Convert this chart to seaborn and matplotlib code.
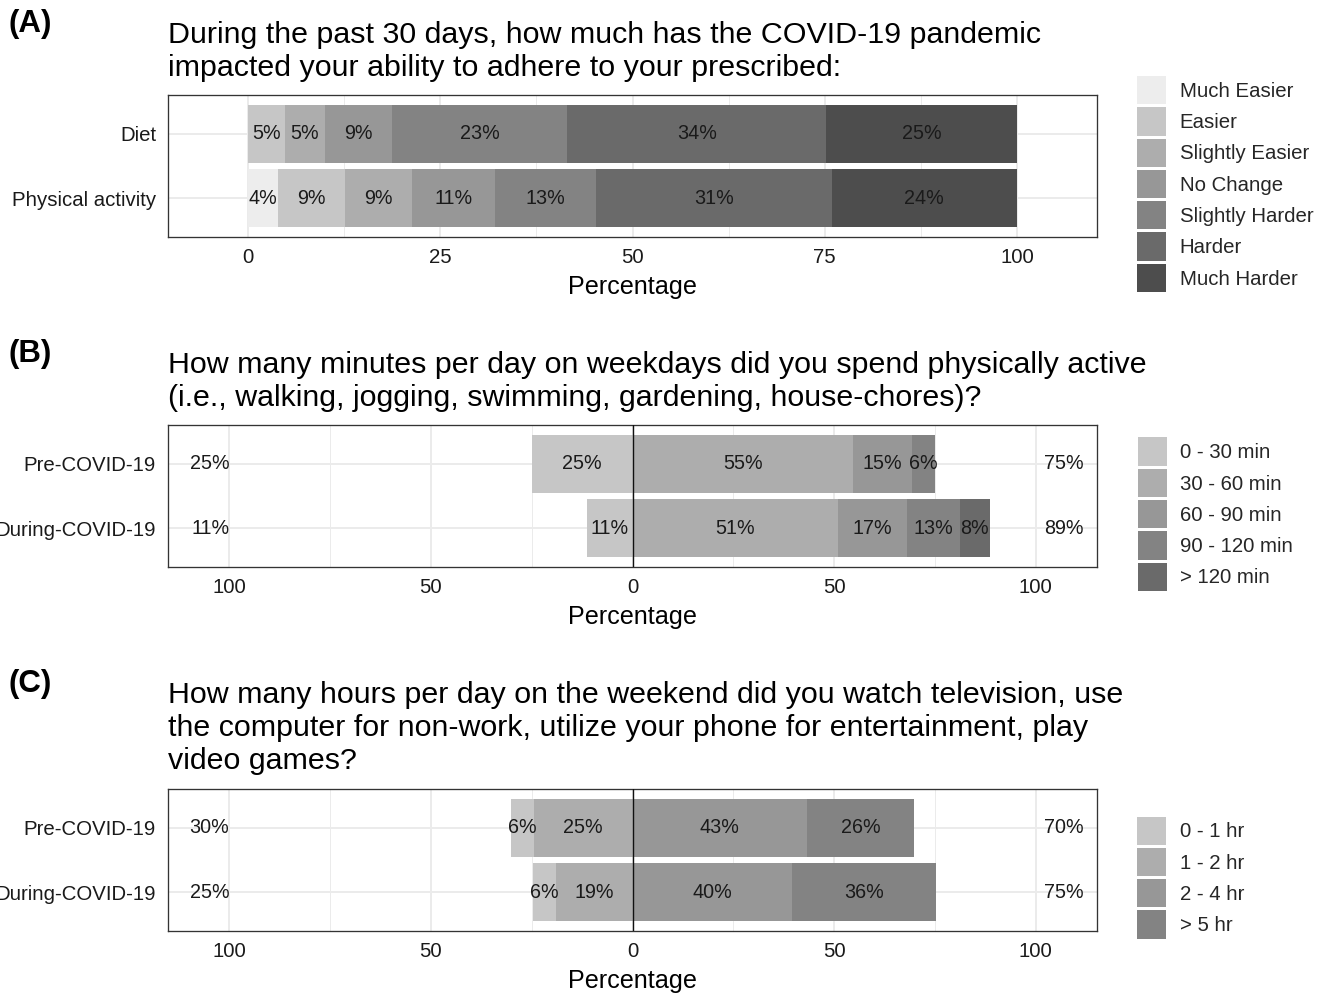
import numpy as np
import pandas as pd
import matplotlib
matplotlib.use("Agg")
import matplotlib.pyplot as plt
from matplotlib.patches import Patch
from matplotlib.ticker import FixedLocator
import seaborn as sns

# ---------------- data ----------------
# (A) impact on adherence
a_items = ["Diet", "Physical activity"]
a_levels = ["Much Easier", "Easier", "Slightly Easier", "No Change",
            "Slightly Harder", "Harder", "Much Harder"]
a_diet = [0.0, 4.8, 5.2, 8.7, 22.8, 33.7, 24.8]
a_phys = [3.9, 8.7, 8.7, 10.8, 13.2, 30.6, 24.1]
a_colors = ["#EDEDED", "#C6C6C6", "#ADADAD", "#979797",
            "#838383", "#6A6A6A", "#4D4D4D"]

# (B) weekday minutes physically active
b_items = ["Pre-COVID-19", "During-COVID-19"]
b_levels = ["0 - 30 min", "30 - 60 min", "60 - 90 min", "90 - 120 min", "> 120 min"]
b_pre = [25.0, 54.6, 14.8, 5.6, 0.0]
b_during = [11.3, 50.9, 17.1, 13.1, 7.6]
b_colors = ["#C6C6C6", "#ADADAD", "#979797", "#838383", "#6A6A6A"]
b_n_low = 1

# (C) weekend hours of screen time
c_items = ["Pre-COVID-19", "During-COVID-19"]
c_levels = ["0 - 1 hr", "1 - 2 hr", "2 - 4 hr", "> 5 hr"]
c_pre = [5.7, 24.5, 43.3, 26.4]
c_during = [5.6, 19.0, 39.6, 35.7]
c_colors = ["#C6C6C6", "#ADADAD", "#979797", "#838383"]
c_n_low = 2

# ---------------- style ----------------
sns.set_style("white")
plt.rcParams["font.family"] = ["Liberation Sans", "DejaVu Sans"]

W, H = 1327, 993
fig = plt.figure(figsize=(W / 100, H / 100), dpi=100)

TICK_PT = 14.7
LEG_PT = 14.7
AXT_PT = 18.1
TITLE_PT = 21.9
BAR_PT = 14.2
TAG_PT = 22.5
TEXT_C = "#1A1A1A"
GRID_C = "#EBEBEB"
FRAME_C = "#333333"


def px_axes(left, top, right, bottom):
    return fig.add_axes([left / W, 1 - bottom / H, (right - left) / W, (bottom - top) / H])


def segments(values, n_low):
    """Return (start, end) of every stacked segment, low levels to the left of 0."""
    spans = []
    for i in range(len(values)):
        if i < n_low:
            end = -sum(values[i:n_low])
            start = -sum(values[i + 1:n_low])
        else:
            start = sum(values[n_low:i])
            end = start + values[i]
        spans.append((start, end))
    return spans


def pct(v):
    return f"{int(v + 0.5)}%"


def draw_panel(ax, items, levels, rows, colors, n_low, xlim, majors, minors,
               ticklabels, diverging):
    spans = [segments(r, n_low) for r in rows]
    nlev = len(levels)
    # outermost segments first so inner ones sit on top
    order = list(range(n_low)) + list(range(nlev - 1, n_low - 1, -1))
    for i in order:
        df = pd.DataFrame({"item": items, "end": [s[i][1] for s in spans]})
        sns.barplot(data=df, x="end", y="item", order=items, orient="h",
                    color=colors[i], saturation=1, width=0.9, linewidth=0,
                    errorbar=None, ax=ax, zorder=2)
    # segment labels
    for k, (r, s) in enumerate(zip(rows, spans)):
        for i, v in enumerate(r):
            if v <= 0:
                continue
            ax.text((s[i][0] + s[i][1]) / 2, k, pct(v), ha="center", va="center",
                    fontsize=BAR_PT, color=TEXT_C, zorder=4)
        if diverging:
            low = sum(r[:n_low])
            high = sum(r[n_low:])
            ax.text(-100, k, pct(low), ha="right", va="center",
                    fontsize=BAR_PT, color=TEXT_C, zorder=4)
            ax.text(102, k, pct(high), ha="left", va="center",
                    fontsize=BAR_PT, color=TEXT_C, zorder=4)
    if diverging:
        ax.axvline(0, color="#111111", lw=1.0, zorder=3)

    ax.set_xlim(*xlim)
    ax.set_ylim(1.6, -0.6)
    ax.xaxis.set_major_locator(FixedLocator(majors))
    ax.xaxis.set_minor_locator(FixedLocator(minors))
    ax.set_xticklabels(ticklabels)
    ax.set_axisbelow(True)
    ax.grid(True, which="major", axis="both", color=GRID_C, lw=1.4, zorder=0)
    ax.grid(True, which="minor", axis="x", color=GRID_C, lw=0.7, zorder=0)
    ax.tick_params(axis="both", which="major", length=4.6, width=0.95,
                   color=FRAME_C, labelsize=TICK_PT, labelcolor=TEXT_C, pad=3.6)
    ax.tick_params(axis="x", which="minor", length=0)
    ax.tick_params(axis="y", pad=4)
    ax.set_ylabel("")
    ax.set_xlabel("Percentage", fontsize=AXT_PT, color="black", labelpad=5.5)
    for sp in ax.spines.values():
        sp.set_visible(True)
        sp.set_color(FRAME_C)
        sp.set_linewidth(0.95)

    handles = [Patch(facecolor=c, edgecolor="none", label=l) for c, l in zip(colors, levels)]
    return handles


def add_legend(ax, handles, x, y):
    fsz = LEG_PT * 100 / 72
    key_h = 28.3
    # legend handle height = fs*hh - 0.35*fs*(hh - 0.7)
    hh = (key_h / fsz - 0.245) / 0.65
    ax.legend(handles=handles, loc="upper left",
              bbox_to_anchor=(x / W, 1 - y / H), bbox_transform=fig.transFigure,
              frameon=False, fontsize=LEG_PT, borderpad=0, borderaxespad=0,
              handlelength=29 / fsz, handleheight=hh,
              labelspacing=3.0 / fsz, handletextpad=13.5 / fsz)


def add_title(tag, tag_y, lines, first_base):
    fig.text(8 / W, 1 - tag_y / H, tag, fontsize=TAG_PT, fontweight="bold",
             ha="left", va="baseline", color="black")
    for j, line in enumerate(lines):
        fig.text(168 / W, 1 - (first_base + 33 * j) / H, line, fontsize=TITLE_PT,
                 ha="left", va="baseline", color="black")


# ---------------- panel A ----------------
axA = px_axes(168, 95, 1097, 237)
hA = draw_panel(axA, a_items, a_levels, [a_diet, a_phys], a_colors, 0,
                (-10.4, 110.4), [0, 25, 50, 75, 100], [12.5, 37.5, 62.5, 87.5],
                ["0", "25", "50", "75", "100"], diverging=False)
add_legend(axA, hA, 1137, 76)
add_title("(A)", 32,
          ["During the past 30 days, how much has the COVID-19 pandemic",
           "impacted your ability to adhere to your prescribed:"], 43)

# ---------------- panel B ----------------
axB = px_axes(168, 425, 1097, 567)
hB = draw_panel(axB, b_items, b_levels, [b_pre, b_during], b_colors, b_n_low,
                (-115.2, 115.2), [-100, -50, 0, 50, 100], [-75, -25, 25, 75],
                ["100", "50", "0", "50", "100"], diverging=True)
add_legend(axB, hB, 1138, 437.5)
add_title("(B)", 362,
          ["How many minutes per day on weekdays did you spend physically active",
           "(i.e., walking, jogging, swimming, gardening, house-chores)?"], 373)

# ---------------- panel C ----------------
axC = px_axes(168, 789, 1097, 931)
hC = draw_panel(axC, c_items, c_levels, [c_pre, c_during], c_colors, c_n_low,
                (-115.2, 115.2), [-100, -50, 0, 50, 100], [-75, -25, 25, 75],
                ["100", "50", "0", "50", "100"], diverging=True)
add_legend(axC, hC, 1137, 816.5)
add_title("(C)", 692,
          ["How many hours per day on the weekend did you watch television, use",
           "the computer for non-work, utilize your phone for entertainment, play",
           "video games?"], 703)

fig.savefig("out.png", dpi=100)
